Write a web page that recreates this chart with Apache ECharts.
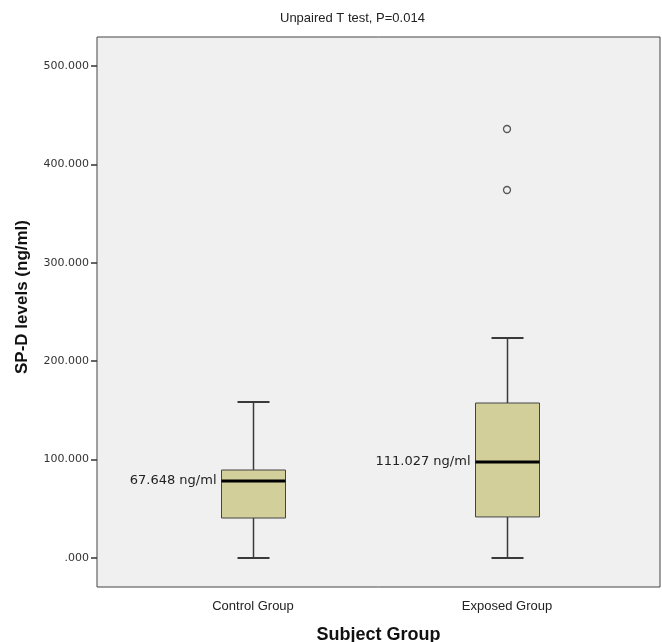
<!DOCTYPE html>
<html>
<head>
<meta charset="utf-8">
<script src="https://cdn.jsdelivr.net/npm/echarts@6/dist/echarts.min.js"></script>
<style>html,body{margin:0;padding:0;background:#fff}#c{width:662px;height:642px}</style>
</head>
<body>
<div id="c"></div>
<script>
// ---- data ----
const categories = ['Control Group', 'Exposed Group'];
// [low whisker, Q1, median, Q3, high whisker]
const controlBox = [0, 40.6, 78.3, 89.4, 158.5];
const exposedBox = [0, 41.7, 97.6, 157.5, 223.6];
const outliers = [[1, 436], [1, 374]];
const medianLabels = ['67.648 ng/ml', '111.027 ng/ml'];
const yTicks = [0, 100, 200, 300, 400, 500];
const yMin = -29.5, yMax = 529.5;
const titleText = 'Unpaired T test, P=0.014';
const xTitle = 'Subject Group';
const yTitle = 'SP-D levels (ng/ml)';

const boxRows = [controlBox, exposedBox].map((b, i) => [i].concat(b));

const chart = echarts.init(document.getElementById('c'), null, {renderer: 'canvas'});

function renderBox(params, api) {
  const idx = api.value(0);
  const low = api.coord([idx, api.value(1)]);
  const q1 = api.coord([idx, api.value(2)]);
  const med = api.coord([idx, api.value(3)]);
  const q3 = api.coord([idx, api.value(4)]);
  const high = api.coord([idx, api.value(5)]);
  const cx = Math.round(low[0]) + 0.5;
  const hw = 32, cw = 16;
  const stroke = '#3a3a3a';
  return {
    type: 'group',
    children: [
      {type: 'line', shape: {x1: cx, y1: high[1], x2: cx, y2: q3[1]}, style: {stroke: stroke, lineWidth: 1.5}},
      {type: 'line', shape: {x1: cx, y1: q1[1], x2: cx, y2: low[1]}, style: {stroke: stroke, lineWidth: 1.5}},
      {type: 'line', shape: {x1: cx - cw, y1: high[1], x2: cx + cw, y2: high[1]}, style: {stroke: stroke, lineWidth: 2}},
      {type: 'line', shape: {x1: cx - cw, y1: low[1], x2: cx + cw, y2: low[1]}, style: {stroke: stroke, lineWidth: 2}},
      {type: 'rect', shape: {x: cx - hw, y: q3[1], width: hw * 2, height: q1[1] - q3[1]},
        style: {fill: '#d3cf9a', stroke: '#444', lineWidth: 1}},
      {type: 'line', shape: {x1: cx - hw, y1: med[1], x2: cx + hw, y2: med[1]}, style: {stroke: '#000', lineWidth: 3}},
      {type: 'text', x: cx - hw - 5, y: med[1],
        style: {text: medianLabels[idx], align: 'right', verticalAlign: 'middle',
          font: '13px "DejaVu Sans"', fill: '#222'}}
    ]
  };
}

chart.setOption({
  animation: false,
  backgroundColor: '#ffffff',
  title: {
    text: titleText,
    left: 275, top: 7,
    textStyle: {fontFamily: 'Liberation Sans', fontSize: 13, fontWeight: 'normal', color: '#222'}
  },
  graphic: [
    {type: 'text', x: 22, y: 297, rotation: Math.PI / 2,
      style: {text: yTitle, align: 'center', verticalAlign: 'middle',
        font: 'bold 17px "Liberation Sans"', fill: '#111'}}
  ],
  grid: [
    {left: 97, right: 2, top: 37, bottom: 55, outerBoundsMode: 'none', containLabel: false,
      show: true, backgroundColor: '#f0f0f0', borderColor: '#444', borderWidth: 1},
    {left: 126, right: 28, top: 37, bottom: 55, outerBoundsMode: 'none', containLabel: false}
  ],
  xAxis: [
    {gridIndex: 0, type: 'value', min: 0, max: 1, show: true,
      axisLine: {show: false}, axisTick: {show: false}, axisLabel: {show: false}, splitLine: {show: false},
      name: xTitle, nameLocation: 'middle', nameGap: 39,
      nameTextStyle: {fontFamily: 'Liberation Sans', fontSize: 18, fontWeight: 'bold', color: '#111'}},
    {gridIndex: 1, type: 'category', data: categories, boundaryGap: true,
      axisLine: {show: false}, axisTick: {show: false}, splitLine: {show: false},
      axisLabel: {fontFamily: 'Liberation Sans', fontSize: 13, color: '#222', margin: 13}}
  ],
  yAxis: [
    {gridIndex: 0, type: 'value', min: yMin, max: yMax,
      axisLine: {show: false}, splitLine: {show: false},
      axisTick: {show: true, inside: false, length: 6, customValues: yTicks, lineStyle: {color: '#333', width: 1.5}},
      axisLabel: {customValues: yTicks, margin: 8, fontFamily: 'DejaVu Sans', fontSize: 11, color: '#333',
        formatter: v => v === 0 ? '.000' : v.toFixed(3)}},
    {gridIndex: 1, type: 'value', min: yMin, max: yMax, show: false}
  ],
  series: [
    {type: 'custom', xAxisIndex: 1, yAxisIndex: 1, renderItem: renderBox, data: boxRows, z: 3},
    {type: 'scatter', xAxisIndex: 1, yAxisIndex: 1, data: outliers, symbol: 'circle', symbolSize: 7,
      itemStyle: {color: 'rgba(0,0,0,0)', borderColor: '#333', borderWidth: 1.3}, z: 4}
  ]
});
</script>
</body>
</html>
